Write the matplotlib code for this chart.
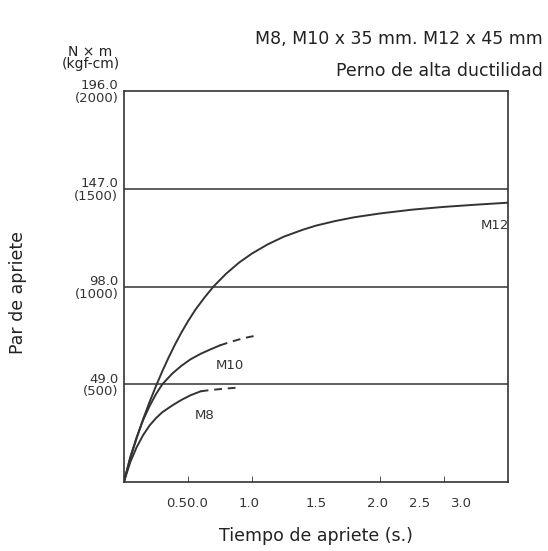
import matplotlib
matplotlib.use('Agg')
import matplotlib.pyplot as plt

# curve readings (time s, torque N*m)
t12 = [0, 0.05, 0.1, 0.15, 0.2, 0.25, 0.3, 0.35, 0.4, 0.45, 0.5, 0.56, 0.63, 0.7, 0.8, 0.9,
       1.0, 1.12, 1.25, 1.4, 1.5, 1.65, 1.8, 2.0, 2.25, 2.5, 2.75, 3.0]
y12 = [0, 12, 22, 31.5, 40, 48, 55.5, 62.5, 69, 75, 80.5, 86.5, 92.5, 98, 104.5, 110,
       114.5, 119, 123, 126.5, 128.5, 130.8, 132.7, 134.6, 136.5, 137.9, 139, 140]
t10 = [0, 0.05, 0.1, 0.15, 0.2, 0.25, 0.3, 0.38, 0.45, 0.52, 0.6, 0.68, 0.75]
y10 = [0, 12.5, 22.5, 31, 38, 44, 49, 54.5, 58.3, 61.5, 64.3, 66.6, 68.5]
t10d = [0.75, 0.83, 0.9, 0.97, 1.04]
y10d = [68.5, 70.2, 71.5, 72.6, 73.5]
t8 = [0, 0.05, 0.1, 0.15, 0.2, 0.25, 0.3, 0.38, 0.45, 0.52, 0.6]
y8 = [0, 10, 17.5, 23.5, 28.3, 32, 35, 38.5, 41.2, 43.5, 45.5]
t8d = [0.6, 0.67, 0.75, 0.82, 0.88]
y8d = [45.5, 46.1, 46.6, 47, 47.3]

yticks = [49, 98, 147, 196]
ylabels = ['49.0\n(500)', '98.0\n(1000)', '147.0\n(1500)', '196.0\n(2000)']
xlabel_pos = [0.49, 0.98, 1.5, 1.98, 2.31, 2.64]
xlabel_txt = ['0.50.0', '1.0', '1.5', '2.0', '2.5', '3.0']
xtick_marks = [0.5, 1.0, 1.5, 2.0, 2.5]

c = '#333333'
fig = plt.figure(figsize=(5.48, 5.51), dpi=100)
ax = fig.add_axes([0.226, 0.125, 0.701, 0.71])
ax.set_xlim(0, 3.0)
ax.set_ylim(0, 196)

for y in yticks[:-1]:
    ax.axhline(y, color=c, lw=1.1)
ax.plot(t12, y12, color=c, lw=1.4)
ax.plot(t10, y10, color=c, lw=1.4)
ax.plot(t10d, y10d, color=c, lw=1.4, ls=(0, (4, 3)))
ax.plot(t8, y8, color=c, lw=1.4)
ax.plot(t8d, y8d, color=c, lw=1.4, ls=(0, (4, 3)))

ax.text(2.9, 128.5, 'M12', ha='center', va='center', fontsize=9.5, color=c)
ax.text(0.83, 58.5, 'M10', ha='center', va='center', fontsize=9.5, color=c)
ax.text(0.63, 33.5, 'M8', ha='center', va='center', fontsize=9.5, color=c)

ax.set_yticks(yticks)
ax.set_yticklabels(ylabels, fontsize=9.5, color=c, linespacing=0.95)
ax.tick_params(axis='y', length=0, pad=4)
ax.set_xticks(xlabel_pos)
ax.set_xticklabels(xlabel_txt, fontsize=9.5, color=c)
ax.tick_params(axis='x', length=0, pad=11)
ax.set_xticks(xtick_marks, minor=True)
ax.tick_params(axis='x', which='minor', direction='in', length=4, color=c)
for s in ax.spines.values():
    s.set_color(c)
    s.set_linewidth(1.2)

ax.set_xlabel('Tiempo de apriete (s.)', fontsize=12.5, color='#222', labelpad=12)
fig.text(0.033, 0.47, 'Par de apriete', rotation=90, ha='center', va='center',
         fontsize=12.5, color='#222')
fig.text(0.165, 0.895, 'N × m\n(kgf-cm)', ha='center', va='center', fontsize=10,
         color='#222', linespacing=0.85)
fig.text(0.99, 0.93, 'M8, M10 x 35 mm. M12 x 45 mm', ha='right', va='center',
         fontsize=12.5, color='#222')
fig.text(0.99, 0.872, 'Perno de alta ductilidad', ha='right', va='center',
         fontsize=12.5, color='#222')

fig.savefig('out.png', dpi=100)
